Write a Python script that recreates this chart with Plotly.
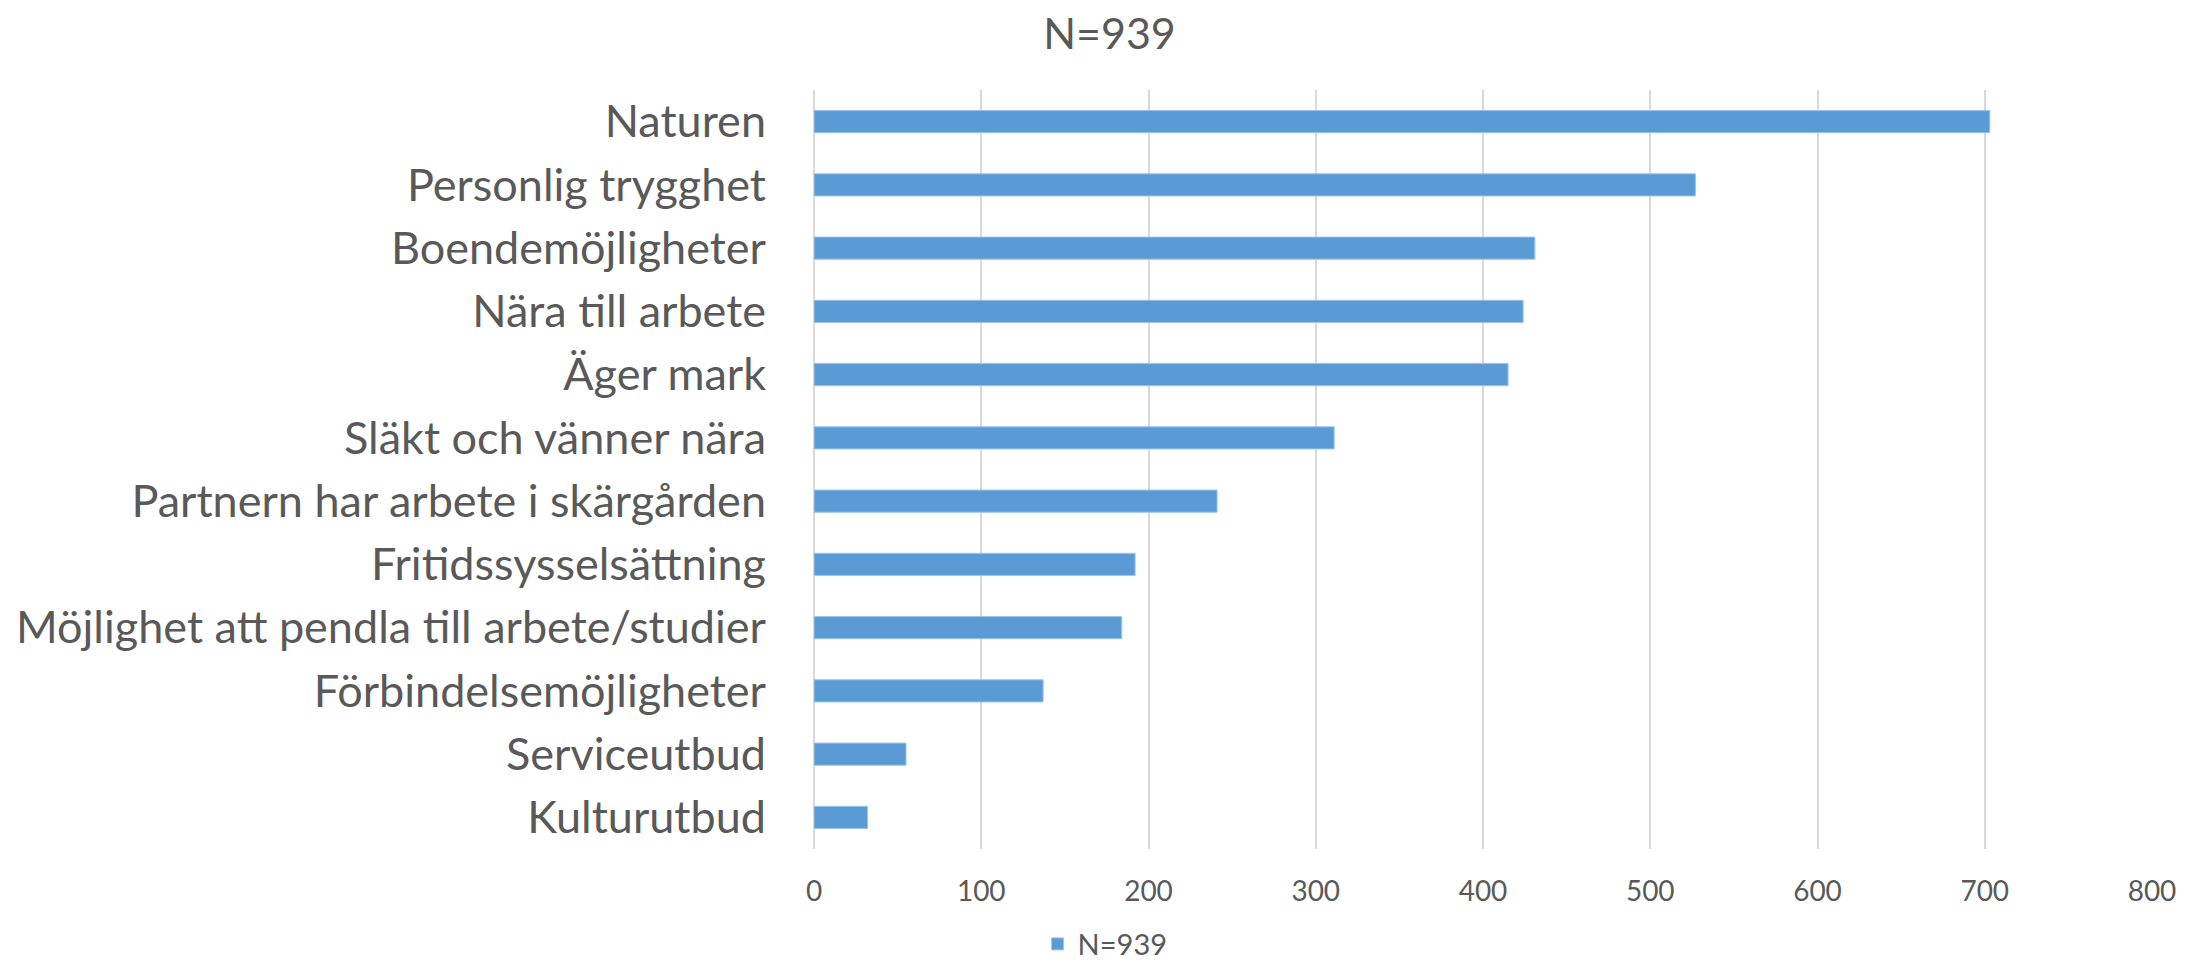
import plotly.graph_objects as go

categories = [
    "Naturen",
    "Personlig trygghet",
    "Boendemöjligheter",
    "Nära till arbete",
    "Äger mark",
    "Släkt och vänner nära",
    "Partnern har arbete i skärgården",
    "Fritidssysselsättning",
    "Möjlighet att pendla till arbete/studier",
    "Förbindelsemöjligheter",
    "Serviceutbud",
    "Kulturutbud",
]
values = [703, 527, 431, 424, 415, 311, 241, 192, 184, 137, 55, 32]
series_name = "N=939"
x_ticks = [0, 100, 200, 300, 400, 500, 600, 700, 800]

FONT = "Lato"
TEXT = "#595959"
GRID = "#D9D9D9"

fig = go.Figure()
fig.add_trace(go.Bar(
    y=categories,
    x=values,
    orientation="h",
    name=series_name,
    marker=dict(color="#5B9BD5", line=dict(color="#9DC3E6", width=1)),
    showlegend=True,
))

fig.update_layout(
    width=2203,
    height=963,
    paper_bgcolor="white",
    plot_bgcolor="white",
    margin=dict(l=806, r=59, t=82, b=122, autoexpand=False),
    bargap=0.65,
    font=dict(family=FONT, color=TEXT),
    title=dict(text="N=939", x=0.5, xref="container", xanchor="center",
               y=0.973, yref="container", yanchor="middle",
               font=dict(family=FONT, size=43, color=TEXT)),
    showlegend=True,
    legend=dict(orientation="h", xref="container", x=0.498, xanchor="center",
                yref="container", y=0.028, yanchor="middle",
                font=dict(family=FONT, size=29, color=TEXT),
                itemwidth=30),
)
fig.update_xaxes(
    range=[0, 800],
    tickvals=x_ticks,
    automargin=False,
    showgrid=True, gridcolor=GRID, gridwidth=1.5,
    zeroline=True, zerolinecolor=GRID, zerolinewidth=1.5,
    showline=False,
    ticks="outside", ticklen=17, tickcolor="rgba(0,0,0,0)",
    tickfont=dict(family=FONT, size=28, color=TEXT),
)
fig.update_yaxes(
    categoryorder="array",
    categoryarray=categories[::-1],
    automargin=False,
    showgrid=False, zeroline=False, showline=False,
    ticks="outside", ticklen=38, tickcolor="rgba(0,0,0,0)",
    tickfont=dict(family=FONT, size=45, color=TEXT),
)

fig.write_html("out.html")
